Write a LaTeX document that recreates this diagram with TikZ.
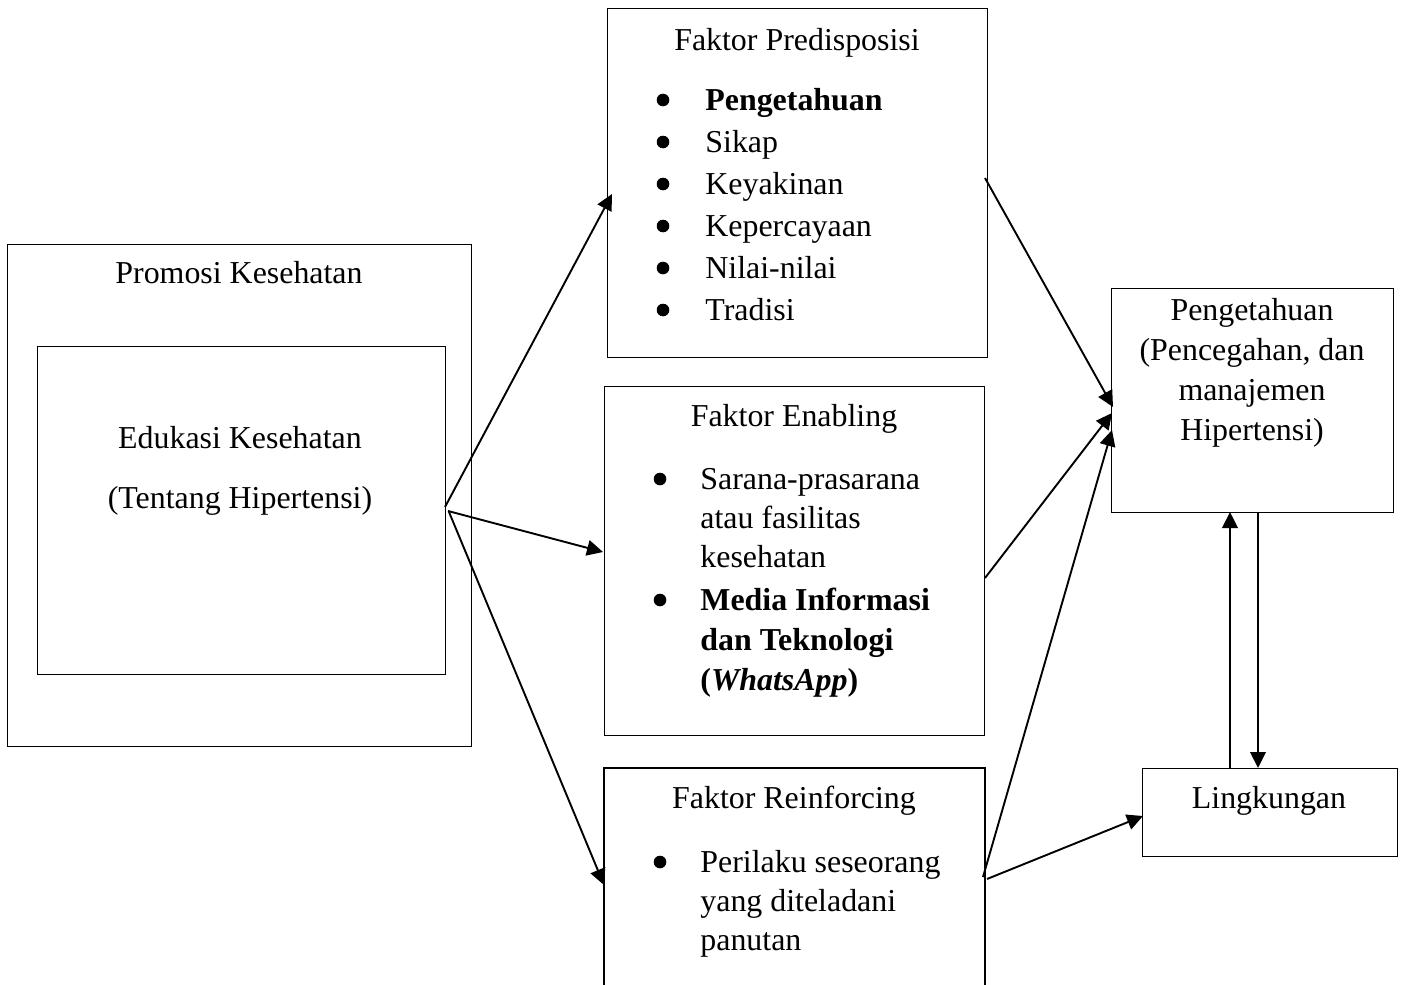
\documentclass[tikz,border=0pt]{standalone}
\usepackage{fontspec}
\setmainfont{Liberation Serif}
\usetikzlibrary{arrows.meta}
\begin{document}
\begin{tikzpicture}[x=0.5pt,y=-0.5pt,
  box/.style={draw, line width=0.7pt, rectangle, inner sep=0pt, anchor=north west},
  txt/.style={font=\fontsize{15.95}{21}\selectfont, inner sep=0pt},
  ctxt/.style={txt, anchor=base},
  ltxt/.style={txt, anchor=base west},
  arr/.style={line width=0.95pt, -{Triangle[length=8pt,width=7.8pt]}},
  bulletdot/.style={fill=black}]
\useasboundingbox (0,0) rectangle (1403,985);

% boxes
\node[box, minimum width=232pt, minimum height=251pt] (promo) at (7,244) {};
\node[box, minimum width=204pt, minimum height=164pt] (edu) at (37,346) {};
\node[box, minimum width=190pt, minimum height=174.5pt] (pred) at (607,8) {};
\node[box, minimum width=190pt, minimum height=174.5pt] (enab) at (604,386) {};
\node[inner sep=0pt, anchor=north west, minimum width=190pt, minimum height=110pt] (reinf) at (604,768) {};
\draw[line width=0.7pt] (reinf.south west) -- (reinf.north west) -- (reinf.north east) -- (reinf.south east);
\node[box, minimum width=141pt, minimum height=112pt] (peng) at (1111,288) {};
\node[box, minimum width=127.5pt, minimum height=44pt] (ling) at (1142,768) {};

% texts
\node[ctxt] (tpromo) at (239,283) {Promosi Kesehatan};
\node[ctxt] (tedu1) at (240,448) {Edukasi Kesehatan};
\node[ctxt] (tedu2) at (240,508) {(Tentang Hipertensi)};

\node[ctxt] (tpred) at (797,50) {Faktor Predisposisi};
\node[ltxt] (p1) at (705,110) {\textbf{Pengetahuan}};
\node[ltxt] (p2) at (705,152) {Sikap};
\node[ltxt] (p3) at (705,194) {Keyakinan};
\node[ltxt] (p4) at (705,236) {Kepercayaan};
\node[ltxt] (p5) at (705,278) {Nilai-nilai};
\node[ltxt] (p6) at (705,320) {Tradisi};
\foreach \yy in {100,142,184,226,268,310} \fill[bulletdot] (663,\yy) circle (6.3);

\node[ctxt] (tenab) at (794,426) {Faktor Enabling};
\node[ltxt] (e1) at (700,489) {Sarana-prasarana};
\node[ltxt] (e2) at (700,528) {atau fasilitas};
\node[ltxt] (e3) at (700,567) {kesehatan};
\node[ltxt] (e4) at (700,610) {\textbf{Media Informasi}};
\node[ltxt] (e5) at (700,650) {\textbf{dan Teknologi}};
\node[ltxt] (e6) at (700,690) {\textbf{(\textit{WhatsApp})}};
\foreach \yy in {479,600} \fill[bulletdot] (660,\yy) circle (6.3);

\node[ctxt] (treinf) at (794,808) {Faktor Reinforcing};
\node[ltxt] (r1) at (700,872) {Perilaku seseorang};
\node[ltxt] (r2) at (700,911) {yang diteladani};
\node[ltxt] (r3) at (700,950) {panutan};
\fill[bulletdot] (660,862) circle (6.3);

\node[ctxt] (tp1) at (1252,320) {Pengetahuan};
\node[ctxt] (tp2) at (1252,360) {(Pencegahan, dan};
\node[ctxt] (tp3) at (1252,400) {manajemen};
\node[ctxt] (tp4) at (1252,440) {Hipertensi)};

\node[ctxt] (tling) at (1269,808) {Lingkungan};

% connector points
\coordinate (a1s) at (445,507);
\coordinate (a1e) at (612,194);
\coordinate (a2s) at (448,511);
\coordinate (a2e) at (603,552);
\coordinate (a3s) at (449,512);
\coordinate (a3e) at (604,885);
\coordinate (b1s) at (985,178);
\coordinate (b1e) at (1113,407);
\coordinate (b2s) at (985,578);
\coordinate (b2e) at (1112,413);
\coordinate (b3s) at (983,877);
\coordinate (b3e) at (1112,430);
\coordinate (c1s) at (987,879);
\coordinate (c1e) at (1143,816);
\coordinate (d1s) at (1230,768);
\coordinate (d1e) at (1230,512);
\coordinate (d2s) at (1258,512);
\coordinate (d2e) at (1258,768);

\draw[arr] (a1s) -- (a1e);
\draw[arr] (a2s) -- (a2e);
\draw[arr] (a3s) -- (a3e);
\draw[arr] (b1s) -- (b1e);
\draw[arr] (b2s) -- (b2e);
\draw[arr] (b3s) -- (b3e);
\draw[arr] (c1s) -- (c1e);
\draw[arr] (d1s) -- (d1e);
\draw[arr] (d2s) -- (d2e);
\end{tikzpicture}
\end{document}
